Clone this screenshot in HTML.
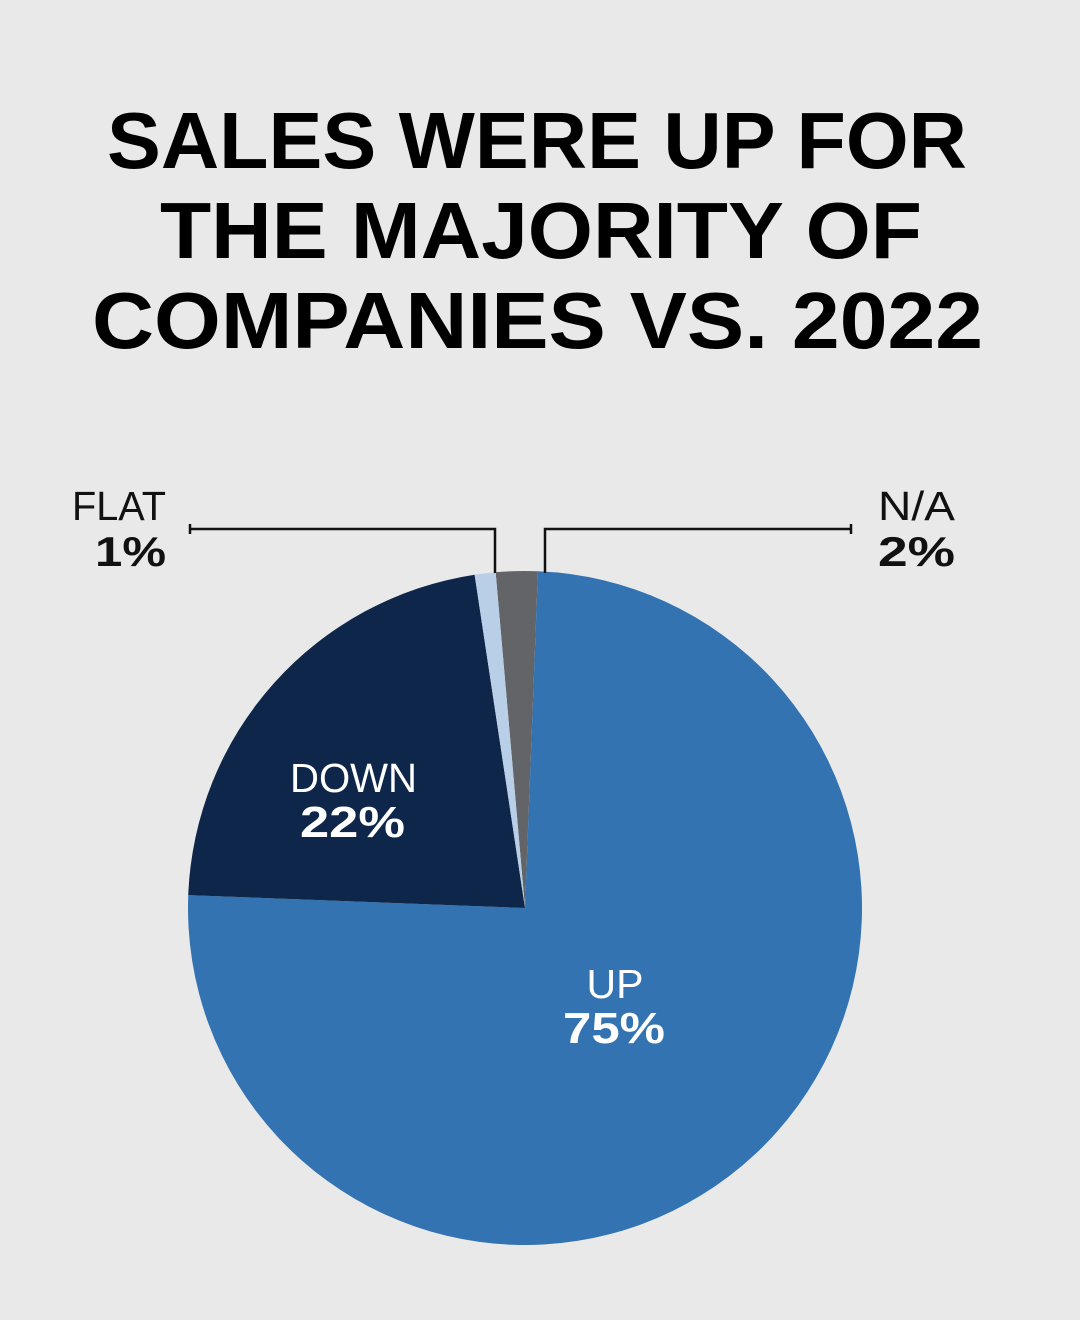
<!DOCTYPE html>
<html><head><meta charset="utf-8"><style>
html,body{margin:0;padding:0;background:#e9e9e9;}
svg{display:block;font-family:"Liberation Sans",sans-serif;}
</style></head><body>
<svg width="1080" height="1320" viewBox="0 0 1080 1320">
<rect width="1080" height="1320" fill="#e9e9e9"/>
<g font-weight="bold" font-size="80" fill="#000">
<text x="107" y="168" textLength="860" lengthAdjust="spacingAndGlyphs">SALES WERE UP FOR</text>
<text x="160" y="258" textLength="762" lengthAdjust="spacingAndGlyphs">THE MAJORITY OF</text>
<text x="92" y="348" textLength="891" lengthAdjust="spacingAndGlyphs">COMPANIES VS. 2022</text>
</g>
<g id="pie"></g>
<g stroke="#111" stroke-width="2.5" fill="none">
<polyline points="190,524 190,534"/>
<polyline points="190,529 495,529 495,573"/>
<polyline points="851,524 851,534"/>
<polyline points="851,529 545,529 545,573"/>
</g>
<g>
<text x="72" y="520" font-size="41" fill="#111" textLength="94" lengthAdjust="spacingAndGlyphs">FLAT</text>
<text x="95" y="566" font-size="42" font-weight="bold" fill="#111" textLength="71" lengthAdjust="spacingAndGlyphs">1%</text>
<text x="878" y="520" font-size="41" fill="#111" textLength="77" lengthAdjust="spacingAndGlyphs">N/A</text>
<text x="878" y="566" font-size="42" font-weight="bold" fill="#111" textLength="77" lengthAdjust="spacingAndGlyphs">2%</text>
<text x="290" y="792" font-size="41" fill="#fff" textLength="127" lengthAdjust="spacingAndGlyphs">DOWN</text>
<text x="300" y="837" font-size="44" font-weight="bold" fill="#fff" textLength="105" lengthAdjust="spacingAndGlyphs">22%</text>
<text x="615" y="998" text-anchor="middle" font-size="41" fill="#fff">UP</text>
<text x="563" y="1043" font-size="44" font-weight="bold" fill="#fff" textLength="102" lengthAdjust="spacingAndGlyphs">75%</text>
</g>
</svg>
<script>
const categories = ["N/A","UP","DOWN","FLAT"];
const values = [2,75,22,1];
const colors = ["#626467","#3373b1","#0e2649","#b9cfe8"];
const cx=525, cy=908, r=337, startDeg=-5;
const g=document.getElementById('pie');
const total=values.reduce((a,b)=>a+b,0);
let a=startDeg;
function pt(d){const t=d*Math.PI/180;return [cx+r*Math.sin(t),cy-r*Math.cos(t)];}
values.forEach((v,i)=>{
  const sweep=v/total*360;
  const p0=pt(a), p1=pt(a+sweep);
  const large=sweep>180?1:0;
  const path=document.createElementNS('http://www.w3.org/2000/svg','path');
  path.setAttribute('d',`M${cx},${cy} L${p0[0]},${p0[1]} A${r},${r} 0 ${large} 1 ${p1[0]},${p1[1]} Z`);
  path.setAttribute('fill',colors[i]);
  
  
  g.appendChild(path);
  a+=sweep;
});
</script>
</body></html>
